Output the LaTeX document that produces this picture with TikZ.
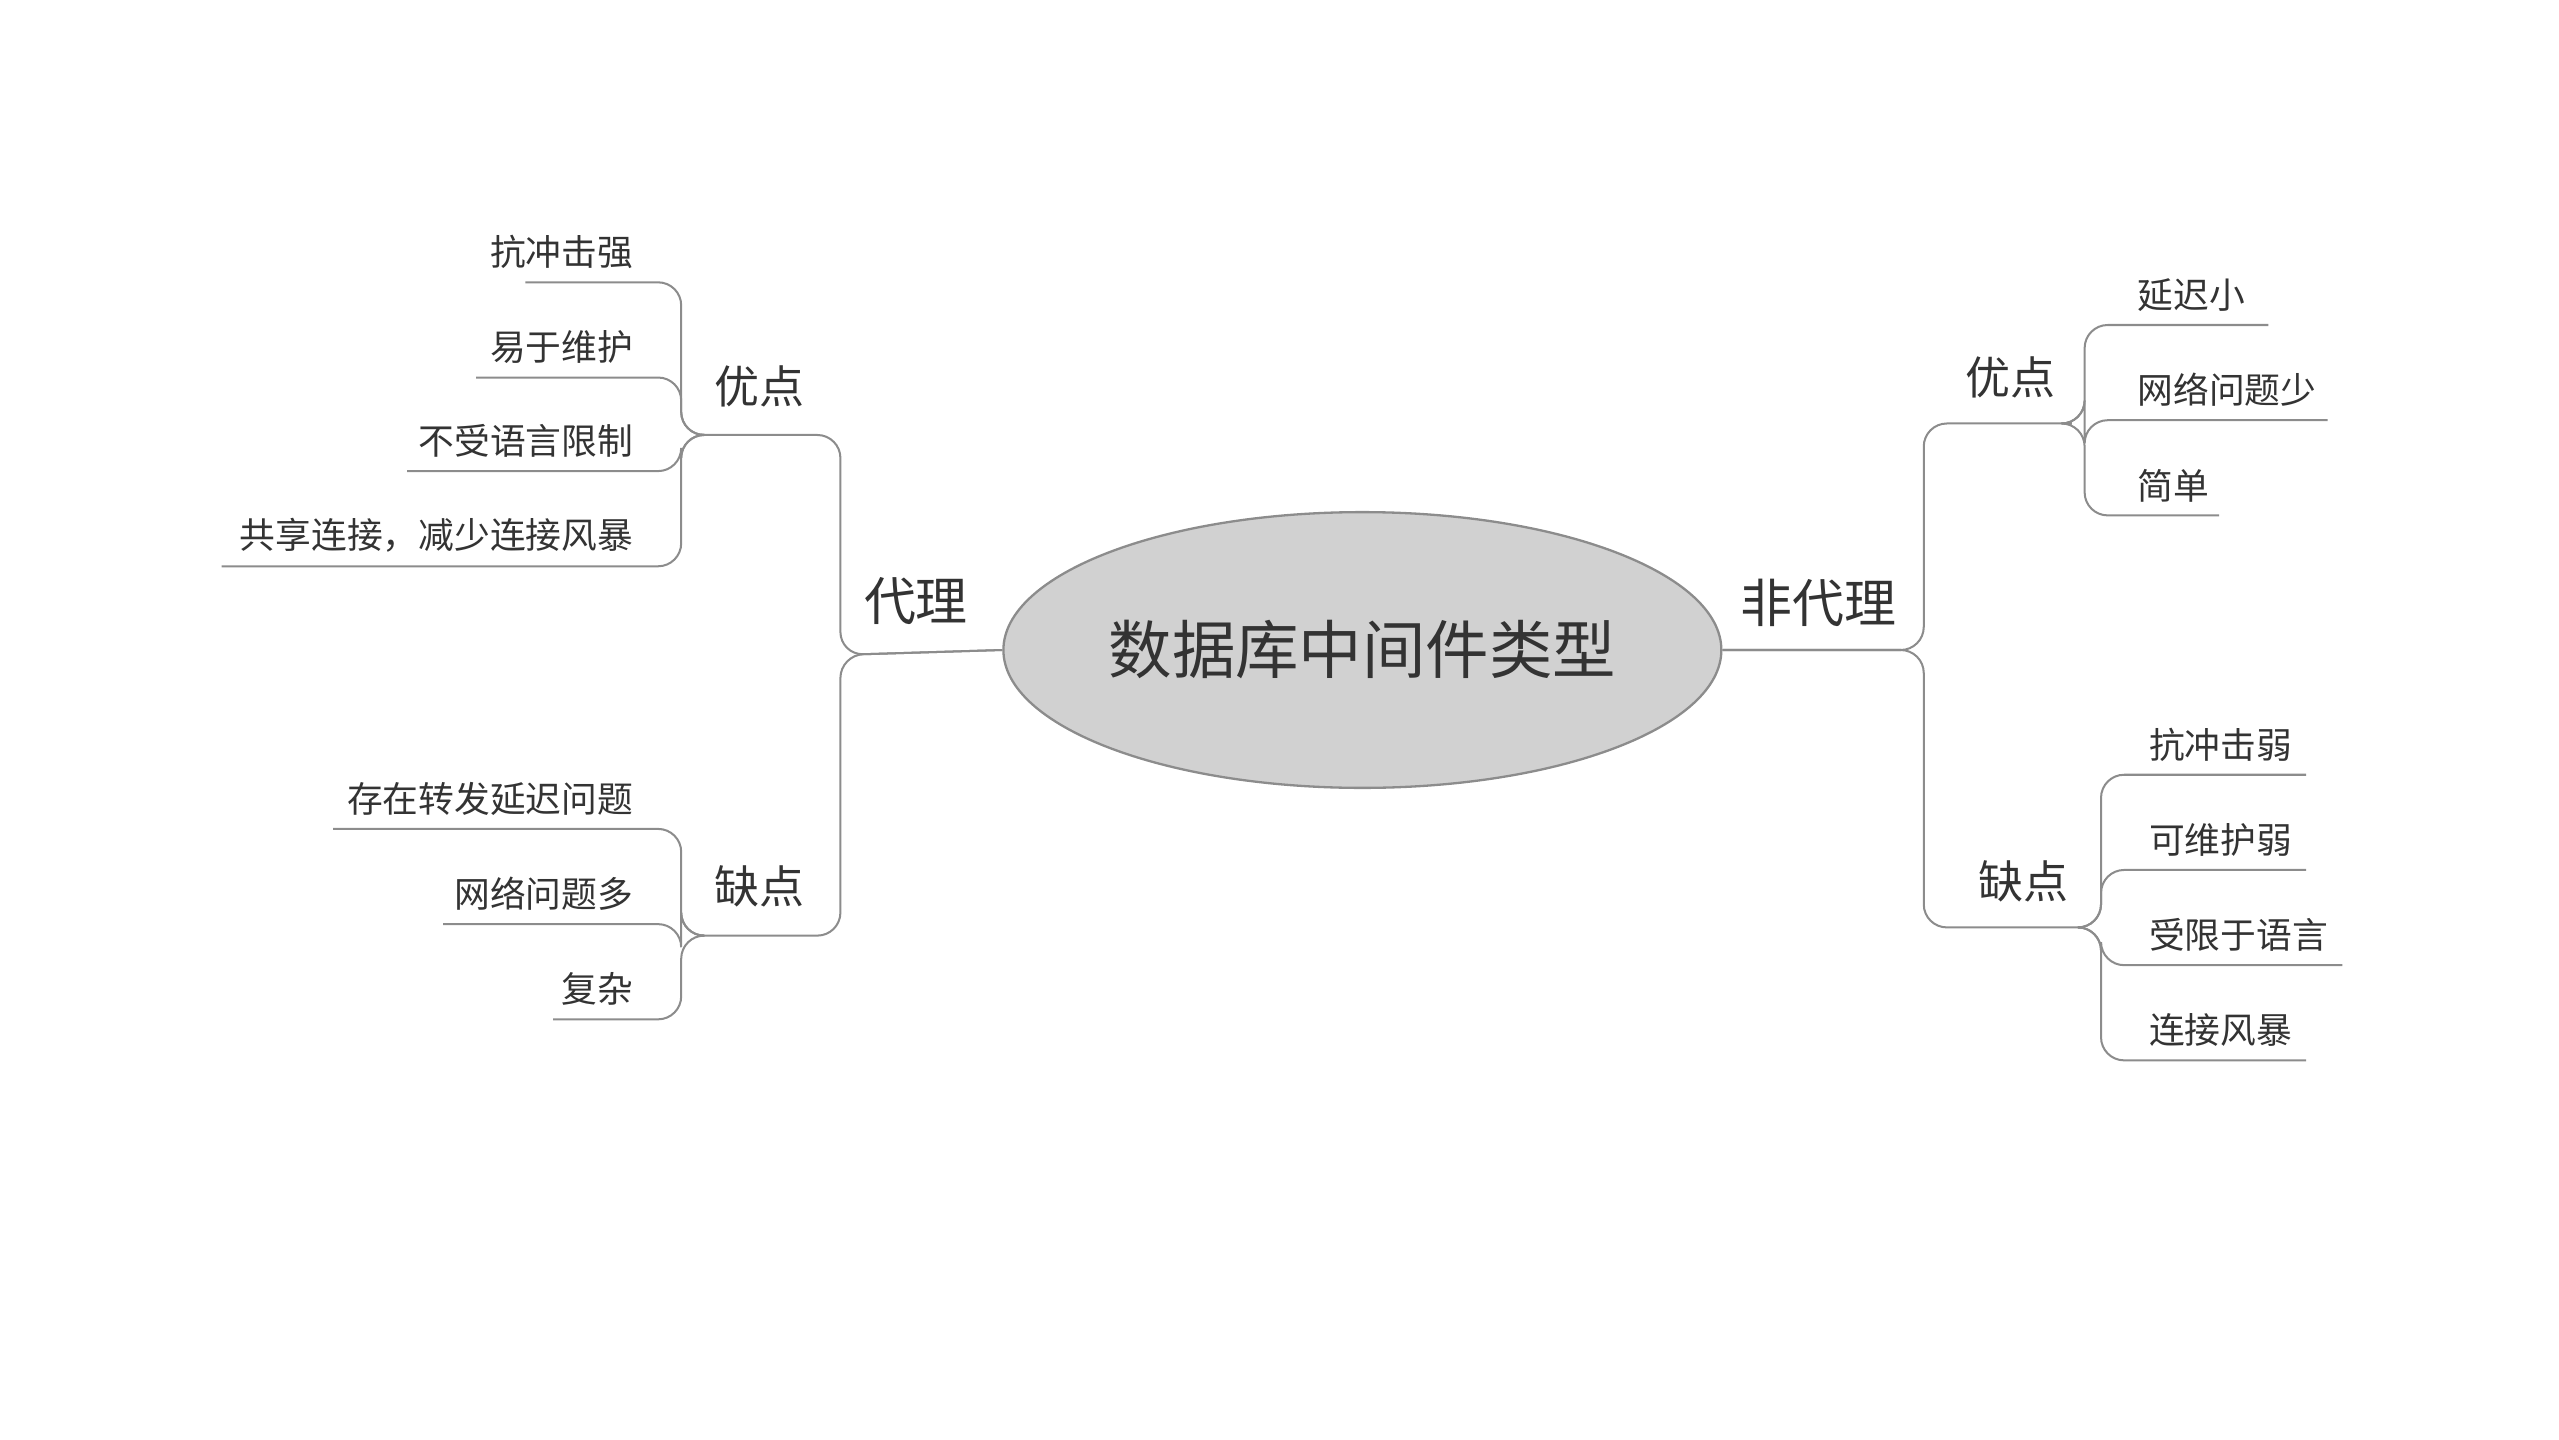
\documentclass[tikz,border=0pt]{standalone}
\usepackage{fontspec}
\usetikzlibrary{shapes.geometric}
\setmainfont{Noto Sans CJK SC}
\begin{document}
\begin{tikzpicture}[x=0.1mm,y=-0.1mm,
  ln/.style={draw=black!45,line width=0.35pt,rounded corners=4pt},
  leaf/.style={font=\fontsize{6.2}{7}\selectfont,text=black!80,inner sep=1pt},
  sub/.style={font=\fontsize{7.8}{9}\selectfont,text=black!80,inner sep=1pt},
  main/.style={font=\fontsize{9}{10}\selectfont,text=black!80,inner sep=1pt}]
\useasboundingbox (0,0) rectangle (1559,877);
\node[ellipse,draw=black!45,fill=black!18,minimum width=36mm,minimum height=16.8mm,inner sep=0pt,line width=0.4pt,font=\fontsize{11}{12}\selectfont,text=black!80] (c) at (830,396) {数据库中间件类型};
% left
\node[main,anchor=south] (dl) at (558,385) {代理};
\coordinate (jl) at (512,399);
\node[sub,anchor=south] (ly) at (463,252) {优点};
\node[sub,anchor=south] (lq) at (463,557) {缺点};
\coordinate (lyj) at (425,265);
\coordinate (lqj) at (425,570);
\draw[ln] (c.west) -- (jl) -- (512,265) -- (lyj);
\draw[ln] (c.west) -- (jl) -- (512,570) -- (lqj);
\foreach \t/\y/\x [count=\i] in {抗冲击强/172/320,易于维护/230/290,不受语言限制/287/248,{共享连接，减少连接风暴}/345/135}{
  \node[leaf,anchor=south east] (ly\i) at (390,\y-4) {\t};
  \draw[ln] (lyj) -- (415,265) -- (415,\y) -- (\x,\y);
}
\foreach \t/\y/\x [count=\i] in {存在转发延迟问题/505/203,网络问题多/563/270,复杂/621/337}{
  \node[leaf,anchor=south east] (lq\i) at (390,\y-4) {\t};
  \draw[ln] (lqj) -- (415,570) -- (415,\y) -- (\x,\y);
}
% right
\node[main,anchor=south] (dr) at (1108,386) {非代理};
\coordinate (jr) at (1172,396);
\node[sub,anchor=south] (ry) at (1225,247) {优点};
\node[sub,anchor=south] (rq) at (1233,554) {缺点};
\coordinate (ryj) at (1262,258);
\coordinate (rqj) at (1270,565);
\draw[ln] (c.east) -- (jr) -- (1172,258) -- (ryj);
\draw[ln] (c.east) -- (jr) -- (1172,565) -- (rqj);
\foreach \t/\y/\x [count=\i] in {延迟小/198/1382,网络问题少/256/1418,简单/314/1352}{
  \node[leaf,anchor=south west] (ry\i) at (1298,\y-4) {\t};
  \draw[ln] (ryj) -- (1270,258) -- (1270,\y) -- (\x,\y);
}
\foreach \t/\y/\x [count=\i] in {抗冲击弱/472/1405,可维护弱/530/1405,受限于语言/588/1427,连接风暴/646/1405}{
  \node[leaf,anchor=south west] (rq\i) at (1305,\y-4) {\t};
  \draw[ln] (rqj) -- (1280,565) -- (1280,\y) -- (\x,\y);
}
\end{tikzpicture}
\end{document}
